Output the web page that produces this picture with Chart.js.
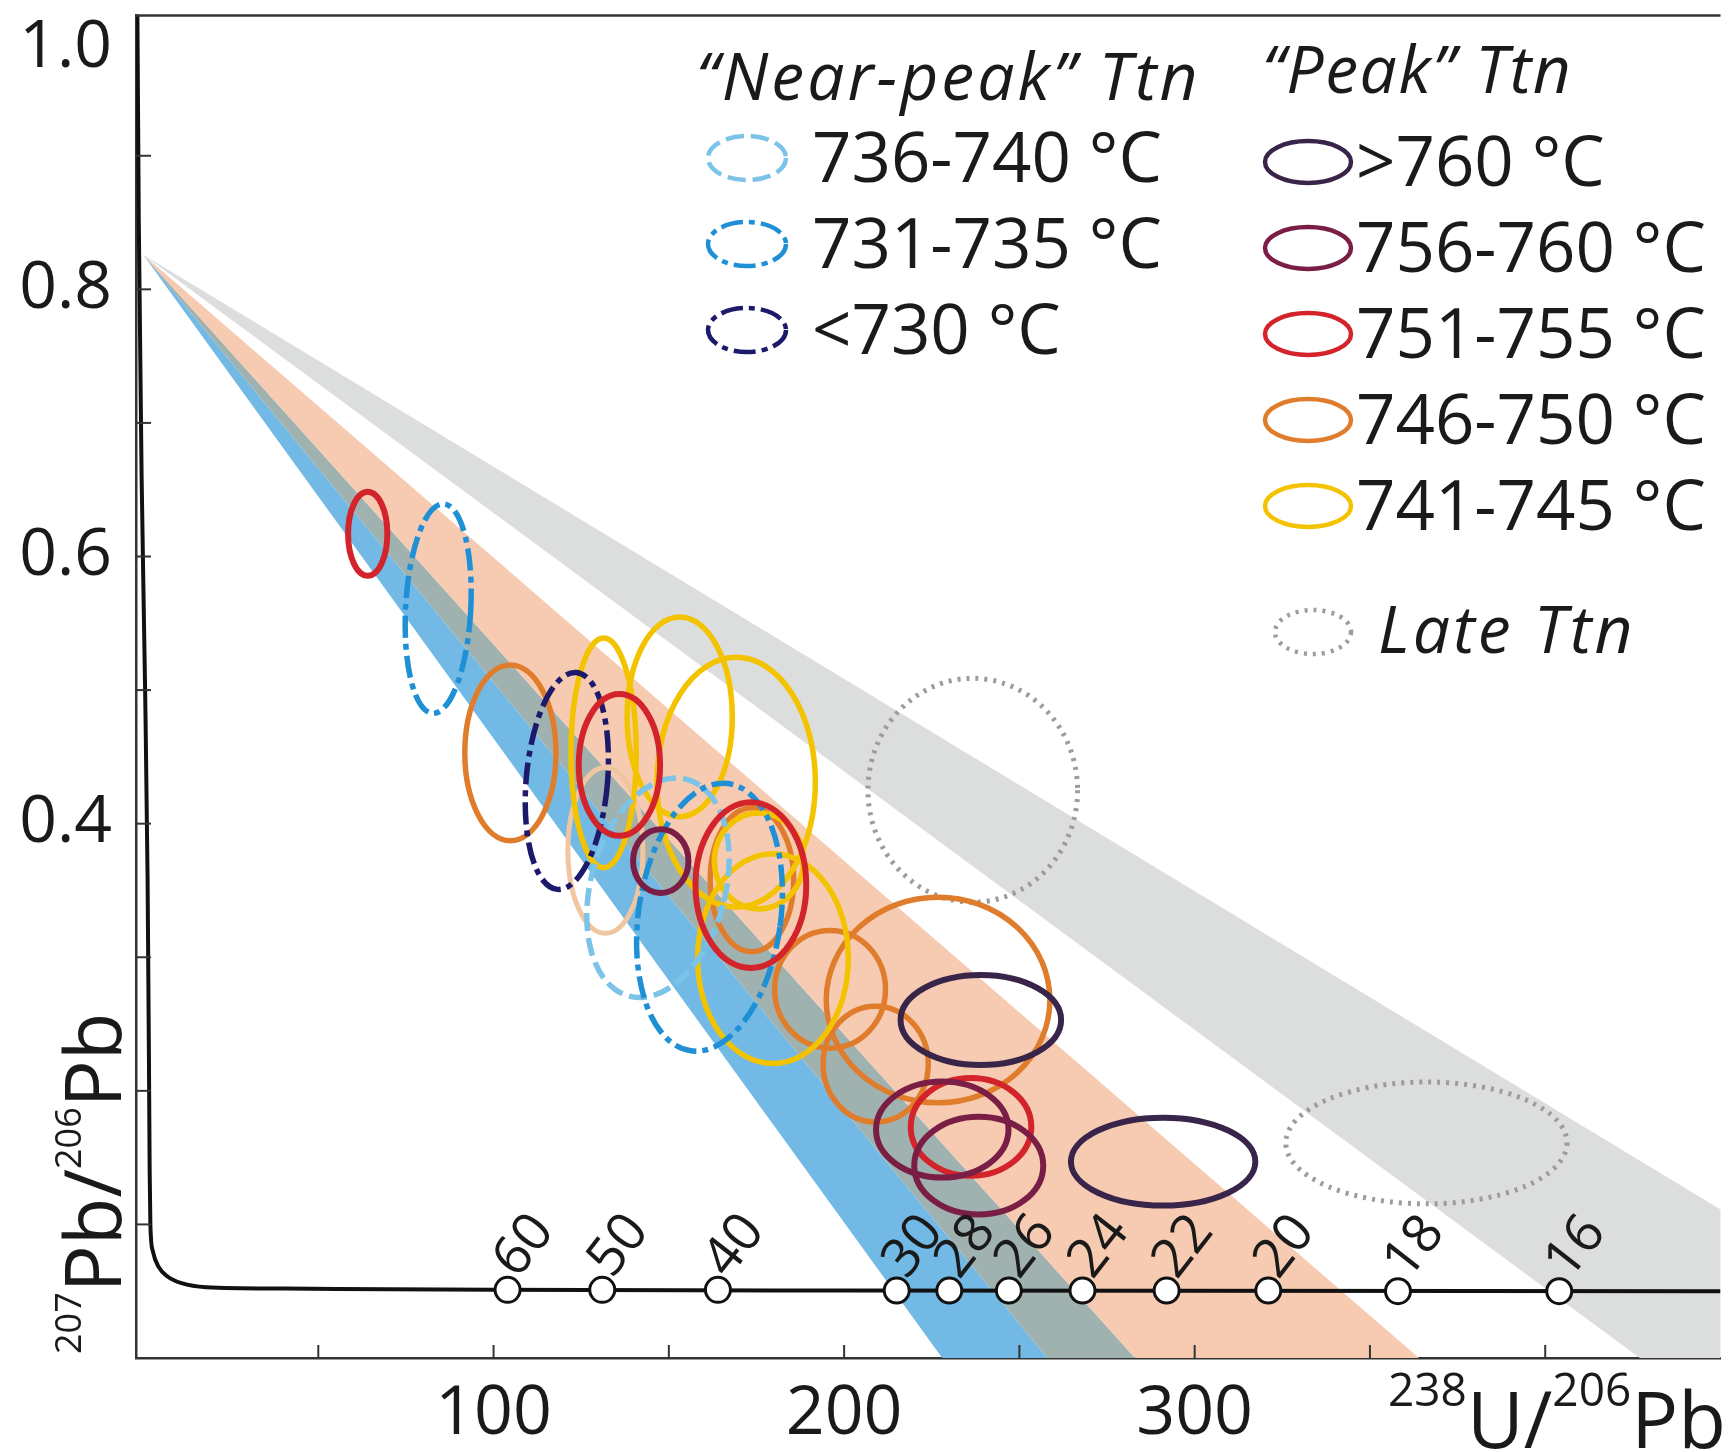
<!DOCTYPE html>
<html>
<head>
<meta charset="utf-8">
<script src="https://cdn.jsdelivr.net/npm/chart.js@4.4.1/dist/chart.umd.min.js"></script>
<style>
  html, body { margin: 0; padding: 0; background: #fff; }
  canvas { display: block; }
</style>
</head>
<body>
<canvas id="twChart" width="1736" height="1452"></canvas>
<script>
// axis ticks
const xTickValues = [50, 100, 150, 200, 250, 300, 350, 400];
const xTickLabels = ['', '100', '', '200', '', '300', '', ''];
const yTickValues = [0.1, 0.2, 0.3, 0.4, 0.5, 0.6, 0.7, 0.8, 0.9, 1.0];
const yTickLabels = ['', '', '', '0.4', '', '0.6', '', '0.8', '', ['', '1.0']];

// concordia curve (238U/206Pb, 207Pb/206Pb)
const concordiaX = [-1.6, -1.2, -0.4, 0.6, 1.3, 1.7, 1.9, 2.1, 2.8, 4.5, 7, 11, 18, 40, 100, 200, 450];
const concordiaY = [1.005, 0.85, 0.66, 0.5, 0.36, 0.22, 0.14, 0.1, 0.08, 0.068, 0.061, 0.056, 0.053, 0.052, 0.051, 0.0505, 0.05];

// age markers on concordia (Ma)
const ageLabels = ['60', '50', '40', '30', '28', '26', '24', '22', '20', '18', '16'];
const ageX = [104, 131, 164, 215, 230, 247, 268, 292, 321, 358, 404];
const ageY = [0.051, 0.051, 0.051, 0.0505, 0.0505, 0.0505, 0.0505, 0.0505, 0.0505, 0.05, 0.05];

// discordia bands: common-Pb apex and x-intercepts on the bottom axis
const bandApex = [0, 0.826];
const blueBand = [228, 258];
const overlapBand = [258, 283];
const orangeBand = [283, 364];
const greyBand = [427, 520];

// ellipses: [x, y, half-width x, half-height y, tilt deg]
const ttn736_740 = [[146.9, 0.352, 19.2, 0.084, 15]];
const ttn731_735 = [[84.2, 0.561, 9.3, 0.0785, 3], [161.6, 0.330, 20.3, 0.101, 8]];
const ttnBelow730 = [[120.9, 0.432, 11.6, 0.0815, 5]];
const ttnAbove760 = [[239.0, 0.253, 22.9, 0.0337, 0], [291.0, 0.147, 26.3, 0.0329, 0]];
const ttn756_760 = [[147.7, 0.372, 7.9, 0.0239, 0], [228.0, 0.171, 18.9, 0.0359, 0], [238.4, 0.144, 18.4, 0.0366, 0]];
const ttn751_755 = [[64.1, 0.617, 5.6, 0.0314, 0], [135.9, 0.444, 11.6, 0.0531, 0], [173.4, 0.354, 15.8, 0.0621, 0], [236.2, 0.173, 17.2, 0.0366, 0]];
const ttn746_750 = [[104.8, 0.453, 13.0, 0.0658, 0], [173.7, 0.358, 11.9, 0.0539, 0], [196.0, 0.276, 15.8, 0.0441, 0], [226.8, 0.268, 31.9, 0.077, 0], [209.0, 0.220, 15.0, 0.0434, 0]];
const ttn741_745 = [[131.4, 0.453, 9.3, 0.086, 0], [153.1, 0.480, 15.0, 0.0748, 0], [169.2, 0.431, 22.6, 0.0935, 0], [179.7, 0.299, 21.5, 0.0785, 0], [175.7, 0.372, 12.7, 0.0359, 0]];
const ttnFaded = [[131.9, 0.380, 10.7, 0.0621, 0]];
const lateTtn = [[236.7, 0.425, 29.9, 0.0838, 0], [366.1, 0.161, 40.1, 0.0456, 0]];

const FONT = '"Open Sans", "DejaVu Sans", sans-serif';

const styles = {
  late: { color: '#9c9c9c', width: 5, dash: [3, 6] },
  n736: { color: '#7cc3e8', width: 5.5, dash: [18, 7] },
  n731: { color: '#1f8fd6', width: 5.5, dash: [22, 6, 6, 6] },
  n730: { color: '#1d1a6c', width: 5.5, dash: [22, 6, 6, 6] },
  faded: { color: '#f0c6a2', width: 5, dash: [] },
  p746: { color: '#e07d2c', width: 5.5, dash: [] },
  p741: { color: '#f4c300', width: 5.5, dash: [] },
  p751: { color: '#d3232b', width: 6, dash: [] },
  p756: { color: '#7b1e45', width: 6, dash: [] },
  p760: { color: '#39244a', width: 6, dash: [] }
};

const ellipseLayers = [
  [lateTtn, styles.late],
  [ttnFaded, styles.faded],
  [ttn746_750, styles.p746],
  [ttn741_745, styles.p741],
  [ttn736_740, styles.n736],
  [ttn731_735, styles.n731],
  [ttnBelow730, styles.n730],
  [ttn751_755, styles.p751],
  [ttn756_760, styles.p756],
  [ttnAbove760, styles.p760]
];

function toPts(xs, ys) {
  return xs.map((x, i) => ({ x, y: ys[i] }));
}
function bandPts(b) {
  return [{ x: bandApex[0], y: bandApex[1] }, { x: b[0], y: 0 }, { x: b[1], y: 0 }];
}

function setStroke(ctx, st) {
  ctx.strokeStyle = st.color;
  ctx.lineWidth = st.width;
  ctx.setLineDash(st.dash);
  ctx.lineCap = 'butt';
}

const ellipsePlugin = {
  id: 'ellipses',
  afterDatasetsDraw(chart) {
    const { ctx, chartArea: a } = chart;
    const xs = chart.scales.x, ys = chart.scales.y;
    ctx.save();
    ctx.beginPath();
    ctx.rect(a.left, a.top, a.right - a.left, a.bottom - a.top);
    ctx.clip();
    ellipseLayers.forEach(([list, st]) => {
      setStroke(ctx, st);
      list.forEach(e => {
        const cx = xs.getPixelForValue(e[0]);
        const cy = ys.getPixelForValue(e[1]);
        const rx = Math.abs(xs.getPixelForValue(e[0] + e[2]) - cx);
        const ry = Math.abs(ys.getPixelForValue(e[1] + e[3]) - cy);
        ctx.beginPath();
        ctx.ellipse(cx, cy, rx, ry, e[4] * Math.PI / 180, 0, Math.PI * 2);
        ctx.stroke();
      });
    });
    ctx.restore();
  }
};

// age numbers next to the concordia markers
const ageLabelPlugin = {
  id: 'ageLabels',
  afterDatasetsDraw(chart) {
    const { ctx } = chart;
    const meta = chart.getDatasetMeta(0);
    ctx.save();
    ctx.fillStyle = '#1a1a1a';
    ctx.font = '54px ' + FONT;
    ctx.textAlign = 'left';
    ctx.textBaseline = 'alphabetic';
    meta.data.forEach((pt, i) => {
      ctx.save();
      ctx.translate(pt.x + 10, pt.y - 10);
      ctx.rotate(-52 * Math.PI / 180);
      ctx.fillText(ageLabels[i], 0, 0);
      ctx.restore();
    });
    ctx.restore();
  }
};

function drawRich(ctx, parts, x, y) {
  let cx = x;
  parts.forEach(p => {
    ctx.font = p.size + 'px ' + FONT;
    ctx.fillText(p.t, cx, y + p.dy);
    cx += ctx.measureText(p.t).width;
  });
}

const framePlugin = {
  id: 'frame',
  afterDraw(chart) {
    const { ctx, chartArea: a } = chart;
    const xs = chart.scales.x, ys = chart.scales.y;
    ctx.save();
    ctx.strokeStyle = '#333';
    ctx.setLineDash([]);
    // top border
    ctx.lineWidth = 2.5;
    ctx.beginPath();
    ctx.moveTo(a.left, a.top);
    ctx.lineTo(a.right, a.top);
    ctx.stroke();
    // inward tick marks
    ctx.lineWidth = 2;
    xs.ticks.forEach(t => {
      const px = xs.getPixelForValue(t.value);
      ctx.beginPath();
      ctx.moveTo(px, a.bottom);
      ctx.lineTo(px, a.bottom - 13);
      ctx.stroke();
    });
    ys.ticks.forEach(t => {
      if (t.value >= 1) return;
      const py = ys.getPixelForValue(t.value);
      ctx.beginPath();
      ctx.moveTo(a.left, py);
      ctx.lineTo(a.left + 15, py);
      ctx.stroke();
    });
    // axis titles
    ctx.fillStyle = '#1a1a1a';
    ctx.textAlign = 'left';
    ctx.textBaseline = 'alphabetic';
    drawRich(ctx, [
      { t: '238', size: 46, dy: -42 },
      { t: 'U/', size: 78, dy: 0 },
      { t: '206', size: 46, dy: -42 },
      { t: 'Pb', size: 78, dy: 0 }
    ], 1388, 1448);
    ctx.save();
    ctx.translate(121, 1354);
    ctx.rotate(-Math.PI / 2);
    drawRich(ctx, [
      { t: '207', size: 36, dy: -40 },
      { t: 'Pb/', size: 78, dy: 0 },
      { t: '206', size: 36, dy: -40 },
      { t: 'Pb', size: 78, dy: 0 }
    ], 0, 0);
    ctx.restore();
    ctx.restore();
  }
};

const legendPlugin = {
  id: 'ttnLegend',
  afterDraw(chart) {
    const { ctx } = chart;
    ctx.save();
    ctx.fillStyle = '#1a1a1a';
    ctx.textAlign = 'left';
    ctx.textBaseline = 'alphabetic';

    const icon = (cx, cy, rx, ry, st) => {
      setStroke(ctx, st);
      ctx.lineWidth = 4.5;
      ctx.beginPath();
      ctx.ellipse(cx, cy, rx, ry, 0, 0, Math.PI * 2);
      ctx.stroke();
    };

    ctx.font = 'italic 66px ' + FONT;
    ctx.letterSpacing = '3px';
    ctx.fillText('\u201CNear-peak\u201D Ttn', 696, 100);
    ctx.letterSpacing = '1.5px';
    ctx.fillText('\u201CPeak\u201D Ttn', 1262, 93);
    ctx.letterSpacing = '0px';

    const near = [['736-740 \u00B0C', styles.n736], ['731-735 \u00B0C', styles.n731], ['<730 \u00B0C', styles.n730]];
    near.forEach(([label, st], i) => {
      const base = 182 + i * 86;
      icon(747, base - 24, 39, 22, st);
      ctx.font = '69px ' + FONT;
      ctx.fillText(label, 812, base);
    });

    const peak = [['>760 \u00B0C', styles.p760], ['756-760 \u00B0C', styles.p756], ['751-755 \u00B0C', styles.p751],
                  ['746-750 \u00B0C', styles.p746], ['741-745 \u00B0C', styles.p741]];
    peak.forEach(([label, st], i) => {
      const base = 186 + i * 86;
      icon(1308, base - 24, 43, 21, st);
      ctx.font = '69px ' + FONT;
      ctx.fillText(label, 1356, base);
    });

    icon(1313, 632, 38, 22, styles.late);
    ctx.font = 'italic 66px ' + FONT;
    ctx.letterSpacing = '3px';
    ctx.fillText('Late Ttn', 1378, 653);
    ctx.restore();
  }
};

const fitAxis = (size, key) => scale => {
  scale[key] = size;
  scale.paddingTop = 0;
  scale.paddingBottom = 0;
  scale.paddingLeft = 0;
  scale.paddingRight = 0;
};

const ctx = document.getElementById('twChart').getContext('2d');
new Chart(ctx, {
  type: 'line',
  data: {
    datasets: [
      {
        data: toPts(ageX, ageY),
        showLine: false,
        pointRadius: 12.5,
        pointBackgroundColor: '#ffffff',
        pointBorderColor: '#111111',
        pointBorderWidth: 3,
        order: 0
      },
      {
        data: toPts(concordiaX, concordiaY),
        borderColor: '#111111',
        borderWidth: 4,
        pointRadius: 0,
        cubicInterpolationMode: 'monotone',
        fill: false,
        order: 1
      },
      { data: bandPts(orangeBand), backgroundColor: '#f6cbb1', borderWidth: 0, pointRadius: 0, fill: 'shape', order: 2 },
      { data: bandPts(overlapBand), backgroundColor: '#a0b2b0', borderWidth: 0, pointRadius: 0, fill: 'shape', order: 3 },
      { data: bandPts(blueBand), backgroundColor: '#72bae5', borderWidth: 0, pointRadius: 0, fill: 'shape', order: 4 },
      { data: bandPts(greyBand), backgroundColor: '#dcdddd', borderWidth: 0, pointRadius: 0, fill: 'shape', order: 5 }
    ]
  },
  options: {
    responsive: false,
    animation: false,
    devicePixelRatio: 1,
    layout: { padding: { top: 15, right: 0, bottom: 0, left: 0 } },
    plugins: { legend: { display: false }, tooltip: { enabled: false } },
    scales: {
      x: {
        type: 'linear',
        min: -2,
        max: 450,
        afterBuildTicks: s => { s.ticks = xTickValues.map(v => ({ value: v })); },
        afterFit: fitAxis(94, 'height'),
        grid: { display: false, drawTicks: false },
        border: { display: true, color: '#333', width: 2.5 },
        ticks: {
          autoSkip: false,
          maxRotation: 0,
          padding: 16,
          color: '#1a1a1a',
          font: { family: FONT, size: 68 },
          callback: (v, i) => xTickLabels[i]
        }
      },
      y: {
        type: 'linear',
        min: 0,
        max: 1.005,
        afterBuildTicks: s => { s.ticks = yTickValues.map(v => ({ value: v })); },
        afterFit: fitAxis(136, 'width'),
        grid: { display: false, drawTicks: false },
        border: { display: true, color: '#333', width: 2.5 },
        ticks: {
          autoSkip: false,
          padding: 24,
          color: '#1a1a1a',
          font: { family: FONT, size: 66, lineHeight: 0.8 },
          callback: (v, i) => yTickLabels[i]
        }
      }
    }
  },
  plugins: [ellipsePlugin, ageLabelPlugin, framePlugin, legendPlugin]
});
</script>
</body>
</html>
